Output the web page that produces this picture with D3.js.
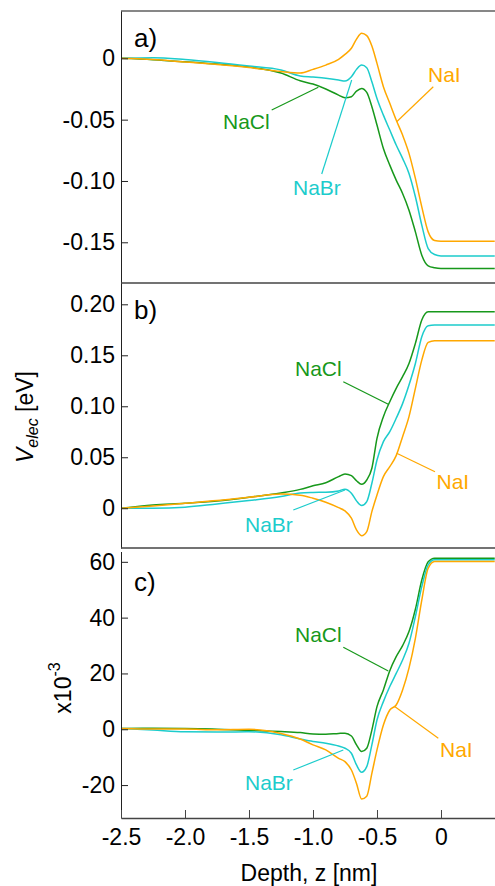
<!DOCTYPE html>
<html>
<head>
<meta charset="utf-8">
<script src="https://cdn.jsdelivr.net/npm/d3@7"></script>
<style>
    body { margin: 0; background: #fff; }
    svg text { font-family: "Liberation Sans", Arial, Helvetica, sans-serif; }
</style>
</head>
<body>
<div id="chart"></div>
<script>
// depth grid (nm) shared by every curve
var depth = [-2.5, -2.25, -2.0, -1.75, -1.5, -1.25, -1.1, -1.0, -0.9, -0.8, -0.75, -0.7, -0.66, -0.62,
    -0.58, -0.54, -0.5, -0.45, -0.4, -0.35, -0.3, -0.25, -0.2, -0.15, -0.1, -0.05, 0, 0.42];

// a) V_elec [eV]
var naclA = [0, -0.0011, -0.0028, -0.0047, -0.0071, -0.012, -0.0183, -0.021, -0.025, -0.030, -0.0321, -0.0313, -0.0267, -0.0245,
    -0.0278, -0.0394, -0.0544, -0.0735, -0.0871, -0.0993, -0.1102, -0.1238, -0.1415, -0.1605, -0.1692, -0.1708, -0.1714, -0.1714];
var nabrA = [0, 0.0005, -0.001, -0.0034, -0.0063, -0.0095, -0.0144, -0.0153, -0.0163, -0.0177, -0.0185, -0.015, -0.009, -0.0055,
    -0.0076, -0.0191, -0.0327, -0.0463, -0.0585, -0.0707, -0.0816, -0.0939, -0.1129, -0.136, -0.1551, -0.16, -0.1611, -0.1611];
var naiA = [0, -0.001, -0.003, -0.005, -0.0075, -0.0108, -0.012, -0.009, -0.0055, -0.0008, 0.0032, 0.0082, 0.0157, 0.0204,
    0.0185, 0.010, -0.0041, -0.0231, -0.0367, -0.0503, -0.0626, -0.0775, -0.0979, -0.1211, -0.1415, -0.1485, -0.1491, -0.1491];

// b) V_elec [eV]
var naclB = [0, 0.0032, 0.0049, 0.0072, 0.0108, 0.0150, 0.0185, 0.022, 0.025, 0.031, 0.0336, 0.032, 0.027, 0.0235,
    0.0277, 0.0392, 0.0686, 0.0898, 0.1045, 0.1176, 0.129, 0.142, 0.1617, 0.1846, 0.1927, 0.1927, 0.1927, 0.1927];
var nabrB = [0, 0, 0.001, 0.0042, 0.0075, 0.0114, 0.015, 0.0155, 0.0157, 0.017, 0.0186, 0.0147, 0.0072, 0.0026,
    0.0065, 0.0245, 0.0473, 0.0653, 0.0751, 0.0882, 0.1026, 0.1208, 0.142, 0.1682, 0.179, 0.1797, 0.1797, 0.1797];
var naiB = [0, 0.0023, 0.0049, 0.0075, 0.0108, 0.014, 0.0128, 0.0098, 0.0059, 0.0006, -0.0026, -0.0098, -0.0213, -0.0269,
    -0.0229, -0.0033, 0.013, 0.031, 0.0408, 0.0516, 0.0702, 0.0898, 0.1176, 0.1453, 0.1627, 0.1643, 0.1643, 0.1643];

// c) x10^-3
var naclC = [0.3, 0.4, 0.3, 0, -0.4, -0.8, -1.2, -1.7, -1.8, -1.5, -1.4, -2.4, -5.6, -8.0,
    -6.8, -0.3, 8.1, 14.1, 21, 26, 30, 35, 43, 53.5, 60, 61.3, 61.3, 61.3];
var nabrC = [0.3, -0.3, -0.9, -1.0, -0.9, -2.0, -3.5, -4.4, -5.0, -6.0, -6.8, -8.6, -12.8, -15.4,
    -13.4, -5.6, 3.3, 9.9, 15.3, 20, 24.8, 30.8, 40.4, 51.1, 58.9, 60.7, 60.7, 60.7];
var naiC = [0.3, 0.1, 0.1, -0.2, 0, -1.5, -3.5, -5.6, -7.4, -10.4, -11.6, -14.6, -19.4, -25.0,
    -24.0, -15.8, -7.4, 1.5, 6.9, 8.7, 14.1, 21.9, 32.6, 46.3, 57.7, 60.1, 60.1, 60.1];

// tick values
var xTicks = [-2.5, -2.0, -1.5, -1.0, -0.5, 0];
var yTicksA = [0, -0.05, -0.10, -0.15];
var yTicksB = [0, 0.05, 0.10, 0.15, 0.20];
var yTicksC = [-20, 0, 20, 40, 60];

var salts = ["NaCl", "NaBr", "NaI"];
var colors = { NaCl: "#17981b", NaBr: "#1ccccc", NaI: "#ffa800" };

var svgWidth = 495;
var svgHeight = 886;

var svg = d3.select("#chart")
    .append("svg")
    .attr("width", svgWidth)
    .attr("height", svgHeight);

var xScale = d3.scaleLinear()
    .domain([-2.5, 0.422])
    .range([121, 495]);

var fmt2 = function (d) { return d === 0 ? "0" : d.toFixed(2); };
var fmtInt = function (d) { return String(d); };

var panels = [
    {
        tag: "a)", top: 11, bottom: 283, domain: [-0.1832, 0.0386], ticks: yTicksA, fmt: fmt2,
        values: { NaCl: naclA, NaBr: nabrA, NaI: naiA },
        labels: {
            NaCl: { x: 223, y: 129, line: [[271.7, 110], [318.3, 87.3]] },
            NaBr: { x: 293, y: 195, line: [[321.7, 174], [351.7, 80]] },
            NaI: { x: 428, y: 82, line: [[433.3, 86.7], [396.7, 121.7]] }
        }
    },
    {
        tag: "b)", top: 283, bottom: 548, domain: [-0.039, 0.2209], ticks: yTicksB, fmt: fmt2,
        values: { NaCl: naclB, NaBr: nabrB, NaI: naiB },
        labels: {
            NaCl: { x: 295, y: 376, line: [[343.3, 381.7], [388.3, 404.3]] },
            NaBr: { x: 245, y: 531.5, line: [[293.3, 510], [345, 490]] },
            NaI: { x: 436.5, y: 489, line: [[435, 471.7], [396.7, 453.3]] }
        }
    },
    {
        tag: "c)", top: 551.5, bottom: 818, domain: [-31.8, 63.7], ticks: yTicksC, fmt: fmtInt,
        values: { NaCl: naclC, NaBr: nabrC, NaI: naiC },
        labels: {
            NaCl: { x: 295, y: 641.5, line: [[343.3, 647.3], [388.3, 671]] },
            NaBr: { x: 245, y: 790, line: [[293.3, 770], [343.3, 750]] },
            NaI: { x: 440, y: 756.5, line: [[438.3, 738.3], [395, 706.7]] }
        }
    }
];

panels.forEach(function (p, i) {
    var yScale = d3.scaleLinear().domain(p.domain).range([p.bottom, p.top]);
    var g = svg.append("g");

    // curves
    var line = d3.line()
        .x(function (d) { return xScale(d[0]); })
        .y(function (d) { return yScale(d[1]); })
        .curve(d3.curveMonotoneX);

    salts.forEach(function (s) {
        var pts = depth.map(function (z, k) { return [z, p.values[s][k]]; });
        g.append("path")
            .datum(pts)
            .attr("d", line)
            .attr("fill", "none")
            .attr("stroke", colors[s])
            .attr("stroke-width", 1.5);
    });

    // curve labels with pointer lines
    salts.forEach(function (s) {
        var lb = p.labels[s];
        g.append("line")
            .attr("x1", lb.line[0][0]).attr("y1", lb.line[0][1])
            .attr("x2", lb.line[1][0]).attr("y2", lb.line[1][1])
            .attr("stroke", colors[s])
            .attr("stroke-width", 1.2);
        g.append("text")
            .attr("x", lb.x)
            .attr("y", lb.y)
            .attr("fill", colors[s])
            .attr("font-size", 21)
            .text(s);
    });

    // y axis, ticks inward
    var yAxis = d3.axisLeft(yScale)
        .tickValues(p.ticks)
        .tickFormat(p.fmt)
        .tickSizeInner(-7)
        .tickSizeOuter(0)
        .tickPadding(6);
    var ya = g.append("g")
        .attr("transform", "translate(121,0)")
        .call(yAxis);
    ya.selectAll("text").attr("font-size", 23).attr("fill", "#000").attr("font-family", null);
    ya.selectAll("line").attr("stroke", "#222");
    ya.select(".domain").attr("stroke", "#222");

    // frame pieces
    if (i === 0) {
        g.append("line").attr("x1", 121).attr("x2", 495).attr("y1", p.top).attr("y2", p.top)
            .attr("stroke", "#111").attr("stroke-width", 1.2);
    }
    if (i < 2) {
        g.append("line").attr("x1", 121).attr("x2", 495).attr("y1", p.bottom).attr("y2", p.bottom)
            .attr("stroke", "#444").attr("stroke-width", 1.5);
    }

    // panel tag
    g.append("text")
        .attr("x", 134)
        .attr("y", p.top + (i === 2 ? 39.5 : 36))
        .attr("font-size", 26)
        .attr("fill", "#000")
        .text(p.tag);
});

// x axis under the last panel
var xAxis = d3.axisBottom(xScale)
    .tickValues(xTicks)
    .tickFormat(function (d) { return d === 0 ? "0" : d.toFixed(1); })
    .tickSizeInner(-8)
    .tickSizeOuter(0)
    .tickPadding(11);
var xa = svg.append("g")
    .attr("transform", "translate(0,818)")
    .call(xAxis);
xa.selectAll("text").attr("font-size", 23).attr("fill", "#000").attr("font-family", null);
xa.selectAll("line").attr("stroke", "#444");
xa.select(".domain").attr("stroke", "#444").attr("stroke-width", 1.5);

// axis titles
svg.append("text")
    .attr("x", 309)
    .attr("y", 881)
    .attr("text-anchor", "middle")
    .attr("font-size", 23)
    .text("Depth, z [nm]");

var vLabel = svg.append("text")
    .attr("transform", "translate(33,417) rotate(-90)")
    .attr("text-anchor", "middle")
    .attr("font-size", 23);
vLabel.append("tspan").attr("font-style", "italic").text("V");
vLabel.append("tspan").attr("font-style", "italic").attr("font-size", 16).attr("dy", 5).text("elec");
vLabel.append("tspan").attr("dy", -5).text(" [eV]");

var expLabel = svg.append("text")
    .attr("transform", "translate(71,688) rotate(-90)")
    .attr("text-anchor", "middle")
    .attr("font-size", 23);
expLabel.append("tspan").text("x10");
expLabel.append("tspan").attr("font-size", 16).attr("dy", -11).text("-3");
</script>
</body>
</html>
